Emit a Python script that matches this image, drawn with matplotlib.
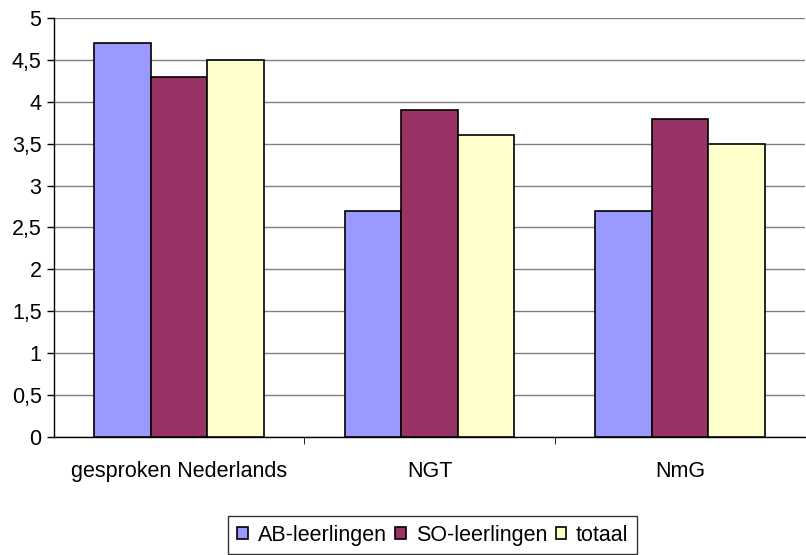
import matplotlib
matplotlib.use("Agg")
import matplotlib.pyplot as plt
import numpy as np

categories = ["gesproken Nederlands", "NGT", "NmG"]
series_names = ["AB-leerlingen", "SO-leerlingen", "totaal"]
ab_values = [4.7, 2.7, 2.7]
so_values = [4.3, 3.9, 3.8]
totaal_values = [4.5, 3.6, 3.5]
colors = ["#9999ff", "#993366", "#ffffcc"]
yticks = [0, 0.5, 1, 1.5, 2, 2.5, 3, 3.5, 4, 4.5, 5]
ytick_labels = ["0", "0,5", "1", "1,5", "2", "2,5", "3", "3,5", "4", "4,5", "5"]

plt.rcParams["font.family"] = ["Liberation Sans", "DejaVu Sans"]
fs = 15.5

fig = plt.figure(figsize=(8.06, 5.55), dpi=100)
ax = fig.add_axes([0.0670, 0.2126, 0.9320, 0.7550])

x = np.arange(len(categories))
w = 0.226
for i, (vals, name) in enumerate(zip([ab_values, so_values, totaal_values], series_names)):
    ax.bar(x + (i - 1) * w, vals, width=w, color=colors[i], edgecolor="black",
           linewidth=1.2, label=name, zorder=3)

ax.set_xlim(-0.5, len(categories) - 0.5)
ax.set_ylim(0, 5)
ax.set_yticks(yticks)
ax.set_yticklabels(ytick_labels, fontsize=fs)
ax.yaxis.grid(True, color="#808080", linewidth=1, zorder=0)

ax.set_xticks(x)
ax.set_xticklabels(categories, fontsize=fs)
ax.tick_params(axis="x", length=0, pad=17)
ax.set_xticks([0.5, 1.5], minor=True)
ax.tick_params(axis="x", which="minor", length=5, direction="out")
ax.tick_params(axis="y", length=5, direction="out", width=1, pad=4)

for side in ["top", "right"]:
    ax.spines[side].set_visible(False)
ax.spines["left"].set_linewidth(1)
ax.spines["bottom"].set_linewidth(1)

leg = fig.legend(loc="center", bbox_to_anchor=(0.537, 0.036), ncol=3, fontsize=fs,
                 frameon=True, fancybox=False, edgecolor="black",
                 handlelength=0.5, handleheight=0.5, handletextpad=0.45,
                 columnspacing=0.4, borderpad=0.4)
leg.get_frame().set_linewidth(1)

fig.savefig("out.png", dpi=100)
